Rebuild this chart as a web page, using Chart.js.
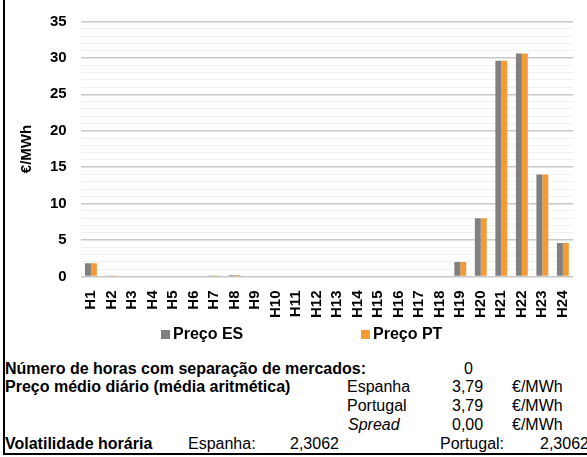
<!DOCTYPE html>
<html lang="pt">
<head>
<meta charset="UTF-8">
<script src="https://cdn.jsdelivr.net/npm/chart.js"></script>
<title>Preço ES / PT</title>
<style>
  body { margin: 0; width: 587px; height: 457px; overflow: hidden; background: #fff;
         font-family: "Liberation Sans", Arial, sans-serif; }
  #frame { position: absolute; left: 3px; top: 0; width: 600px; height: 453px;
           border-left: 2px solid #000; border-bottom: 2px solid #000; }
  #wrap { position: absolute; left: 0; top: 0; width: 587px; height: 331px; }
  .t { position: absolute; font-size: 16px; line-height: 18px; white-space: nowrap; color: #000; }
  .b { font-weight: bold; }
  .i { font-style: italic; }
  .leg { position: absolute; top: 325px; font-size: 16px; font-weight: bold; line-height: 18px; white-space: nowrap; }
  .leg span { display: inline-block; width: 9px; height: 9px; margin-right: 3px; }
</style>
</head>
<body>
  <div id="frame"></div>
  <div id="wrap"><canvas id="myChart" width="587" height="331"></canvas></div>
  <div id="legend"></div>

  <div class="t b" style="left:5px; top:360px">Número de horas com separação de mercados:</div>
  <div class="t" style="left:464px; top:360px">0</div>

  <div class="t b" style="left:5px; top:378px">Preço médio diário (média aritmética)</div>
  <div class="t" style="left:347px; top:378px">Espanha</div>
  <div class="t" style="left:452px; top:378px">3,79</div>
  <div class="t" style="left:512px; top:378px">€/MWh</div>

  <div class="t" style="left:347px; top:397px">Portugal</div>
  <div class="t" style="left:452px; top:397px">3,79</div>
  <div class="t" style="left:512px; top:397px">€/MWh</div>

  <div class="t i" style="left:348px; top:416px">Spread</div>
  <div class="t" style="left:452px; top:416px">0,00</div>
  <div class="t" style="left:512px; top:416px">€/MWh</div>

  <div class="t b" style="left:5px; top:435px">Volatilidade horária</div>
  <div class="t" style="left:188px; top:435px">Espanha:</div>
  <div class="t" style="left:290px; top:435px">2,3062</div>
  <div class="t" style="left:440px; top:435px">Portugal:</div>
  <div class="t" style="left:540px; top:435px">2,3062</div>

  <script>
    const hours = ['H1','H2','H3','H4','H5','H6','H7','H8','H9','H10','H11','H12',
                   'H13','H14','H15','H16','H17','H18','H19','H20','H21','H22','H23','H24']
    const precoES = [1.8, 0.08, 0, 0, 0, 0, 0.02, 0.2, 0, 0, 0, 0,
                     0, 0, 0, 0, 0, 0, 2.0, 8.0, 29.6, 30.6, 14.0, 4.6]
    const precoPT = [1.8, 0.08, 0, 0, 0, 0, 0.02, 0.2, 0, 0, 0, 0,
                     0, 0, 0, 0, 0, 0, 2.0, 8.0, 29.6, 30.6, 14.0, 4.6]
    const seriesNames = ['Preço ES', 'Preço PT']
    const seriesColors = ['#808080', '#f59b35']

    const font = { family: '"Liberation Sans", Arial, sans-serif', size: 15, weight: 'bold' }

    const ctx = document.getElementById('myChart')
    new Chart(ctx, {
      type: 'bar',
      data: {
        labels: hours,
        datasets: [
          { label: seriesNames[0], data: precoES, backgroundColor: seriesColors[0], borderWidth: 0 },
          { label: seriesNames[1], data: precoPT, backgroundColor: seriesColors[1], borderWidth: 0 }
        ]
      },
      options: {
        responsive: false,
        animation: false,
        layout: { padding: { left: 18, right: 6, top: 4, bottom: 7 } },
        datasets: { bar: { categoryPercentage: 0.58, barPercentage: 1.0 } },
        plugins: { legend: { display: false }, tooltip: { enabled: false } },
        scales: {
          x: {
            grid: { display: false },
            border: { display: false },
            ticks: { color: '#000', font: font, maxRotation: 90, minRotation: 90, autoSkip: false, padding: 6 }
          },
          y: {
            min: 0,
            max: 35,
            title: { display: true, text: '€/MWh', color: '#000', font: font, padding: { top: 0, bottom: 0 } },
            border: { display: false },
            grid: {
              drawTicks: false,
              color: (c) => c.tick && c.tick.value % 5 === 0 ? '#c8c8c8' : '#f1f1f1',
              lineWidth: (c) => c.tick && c.tick.value % 5 === 0 ? 1.5 : 1
            },
            ticks: {
              stepSize: 1,
              autoSkip: false,
              color: '#000',
              font: { family: font.family, size: 15, weight: 'bold', lineHeight: 1 },
              padding: 14,
              callback: (v) => v % 5 === 0 ? v : ''
            }
          }
        }
      }
    })

    const legend = document.getElementById('legend')
    const legendX = [161, 361]
    seriesNames.forEach((name, i) => {
      const d = document.createElement('div')
      d.className = 'leg'
      d.style.left = legendX[i] + 'px'
      d.innerHTML = '<span style="background:' + seriesColors[i] + '"></span>' + name
      legend.appendChild(d)
    })
  </script>
</body>
</html>
